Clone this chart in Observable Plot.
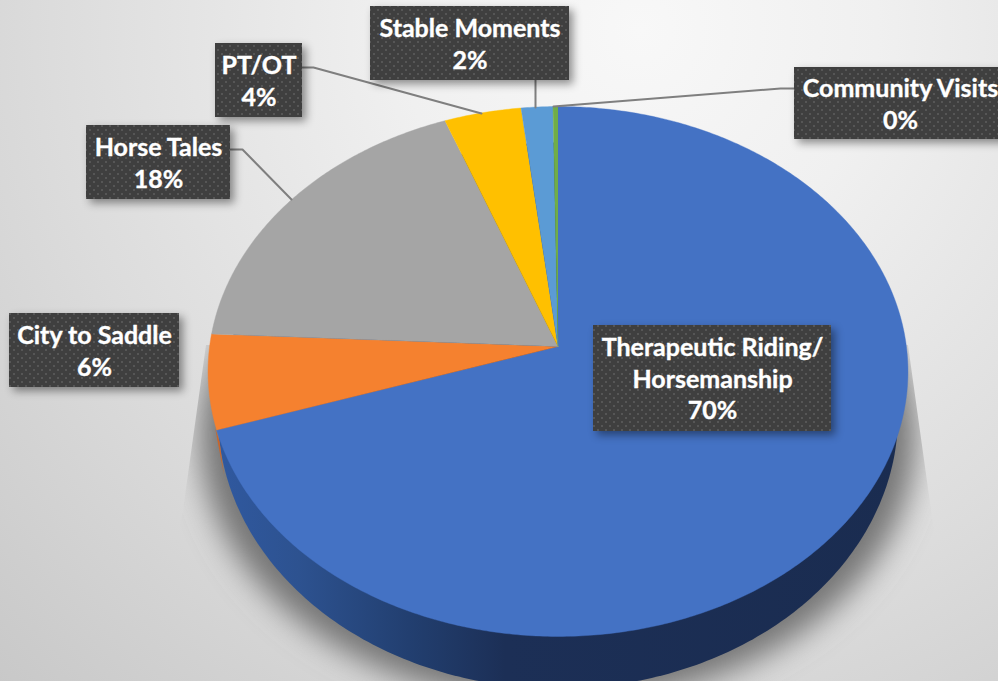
<!DOCTYPE html>
<html>
<head>
<meta charset="utf-8">
<script src="https://cdn.jsdelivr.net/npm/d3@7"></script>
<script src="https://cdn.jsdelivr.net/npm/@observablehq/plot@0.6"></script>
<style>
html,body{margin:0;padding:0;width:998px;height:681px;overflow:hidden}
body{background:radial-gradient(circle 950px at 640px 30px,#f8f8f8 0%,#f0f0f0 25%,#dcdcdc 62%,#c6c6c6 100%)}
svg{display:block;background:transparent !important}
</style>
</head>
<body>
<div id="chart"></div>
<script>
const categories = ["Therapeutic Riding/\nHorsemanship","City to Saddle","Horse Tales","PT/OT","Stable Moments","Community Visits"];
const shares = [70,5.76,18.5,3.89,1.6,0.25];
const percentLabels = ["70%","6%","18%","4%","2%","0%"];
const colors = ["#4472c4","#f5812f","#a5a5a5","#ffc000","#5b9bd5","#70ad47"];

// Layout of the callouts, in picture pixels
const boxes = [
  [593,325,831,431],[9,313,179,387],[86,125,230,199],[215,43,302,117],[370,6,569,80],[794,67,1006,139]
];
const leaders = [
  [],[],
  [[230,149],[242,149],[291,199]],
  [[302,67],[313,67],[481,113]],
  [[535,80],[535,107]],
  [[794,88],[780,88],[553,106]]
];

// Perspective of the tilted disc
const apex = {x:557.5, y:346}, A = 348.4, B = 262.6, k = 0.0943;
const project = a => {
  const u = Math.sin(a), v = Math.cos(a), w = 1 + k*v;
  return {x: apex.x + A*u/w, y: apex.y - B*v/w};
};
const pie = d3.pie().sort(null).value(d => d)(shares);
const slicePts = pie.flatMap((s,i) => {
  const n = Math.max(2, Math.ceil((s.endAngle - s.startAngle)/0.01));
  const pts = [{...apex, c:categories[i]}];
  for (let j=0;j<=n;j++) pts.push({...project(s.startAngle+(s.endAngle-s.startAngle)*j/n), c:categories[i]});
  return pts;
});
const ellipse = (cx,cy,rx,ry) => d3.range(0,361,1).map(t => ({x:cx+rx*Math.cos(t*Math.PI/180), y:cy+ry*Math.sin(t*Math.PI/180)}));
const rim = ellipse(557.5,415,340,273);
const shadowShape = ellipse(557.5,435,358,268);
const sliver = [{x:214.5,y:427},{x:223.5,y:475},{x:219,y:441}];

const boxData = boxes.map(([x1,y1,x2,y2],i)=>({x1,y1,x2,y2,label:categories[i],pct:percentLabels[i]}));
const leaderPts = leaders.flatMap((l,i)=>l.map(([x,y])=>({x,y,i})));

const defs = () => {
  const d = d3.create("svg:defs");
  const g = d.append("linearGradient").attr("id","rimGrad").attr("gradientUnits","userSpaceOnUse")
    .attr("x1",215).attr("x2",905).attr("y1",0).attr("y2",0);
  [[0,"#3059a0"],[0.12,"#2d5290"],[0.28,"#223f70"],[0.42,"#1c2f56"],[1,"#1a2c50"]].forEach(([o,c])=>g.append("stop").attr("offset",o).attr("stop-color",c));
  const p = d.append("pattern").attr("id","dots").attr("patternUnits","userSpaceOnUse").attr("width",8).attr("height",8);
  p.append("rect").attr("width",8).attr("height",8).attr("fill","#3f3f3f");
  p.append("rect").attr("x",1).attr("y",1).attr("width",2).attr("height",2).attr("fill","#565656");
  p.append("rect").attr("x",5).attr("y",5).attr("width",2).attr("height",2).attr("fill","#565656");
  d.append("filter").attr("id","blur").attr("x","-20%").attr("y","-20%").attr("width","140%").attr("height","140%")
    .append("feGaussianBlur").attr("stdDeviation",15);
  d.append("clipPath").attr("id","wedge").append("path").attr("d","M206,345L183,510L150,690L960,690L932,517L908,345Z");
  return d.node();
};

const chart = Plot.plot({
  width:998, height:681, margin:0,
  x:{domain:[0,998],range:[0,998],axis:null},
  y:{domain:[0,681],range:[0,681],axis:null},
  color:{domain:categories,range:colors},
  marks:[
    defs,
    Plot.line(shadowShape,{x:"x",y:"y",fill:"#767676",stroke:"none",
      render(index,scales,values,dimensions,context,next){
        const g = next(index,scales,values,dimensions,context);
        g.setAttribute("filter","url(#blur)");
        const w = document.createElementNS("http://www.w3.org/2000/svg","g");
        w.setAttribute("clip-path","url(#wedge)");
        w.appendChild(g);
        return w;
      }}),
    Plot.line(rim,{x:"x",y:"y",fill:"url(#rimGrad)",stroke:"none"}),
    Plot.line(sliver,{x:"x",y:"y",fill:"#c9652a",stroke:"none"}),
    Plot.line(slicePts,{x:"x",y:"y",z:"c",fill:"c",stroke:"c",strokeWidth:0.4}),
    Plot.line(leaderPts,{x:"x",y:"y",z:"i",stroke:"#7f7f7f",strokeWidth:2}),
    Plot.rect(boxData,{x1:"x1",x2:"x2",y1:"y1",y2:"y2",fill:"url(#dots)",
      render(index,scales,values,dimensions,context,next){
        const g = next(index,scales,values,dimensions,context);
        g.style.filter = "drop-shadow(4px 4px 4px rgba(0,0,0,.42))";
        return g;
      }}),
    Plot.text(boxData,{x:d=>(d.x1+d.x2)/2,y:d=>(d.y1+d.y2)/2-1,text:d=>d.label+"\n"+d.pct,
      fill:"#fff",stroke:"#fff",strokeWidth:0.35,fontFamily:"Lato",fontWeight:700,fontSize:25,lineHeight:1.27,lineAnchor:"middle"})
  ]
});
document.getElementById("chart").appendChild(chart);
</script>
</body>
</html>
